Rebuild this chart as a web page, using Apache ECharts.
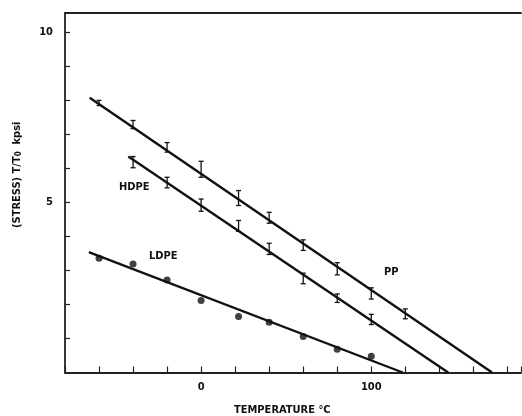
<!DOCTYPE html>
<html>
<head>
<meta charset="utf-8">
<script src="https://cdn.jsdelivr.net/npm/echarts@6/dist/echarts.min.js"></script>
<style>
  html, body { margin: 0; padding: 0; background: #fff; }
  #chart { width: 522px; height: 416px; }
</style>
</head>
<body>
<div id="chart"></div>
<script>
// measured temperatures (°C)
const ppTemps = [-60, -40, -20, 0, 22, 40, 60, 80, 100, 120]
const ppLow = [7.85, 7.17, 6.48, 5.74, 4.91, 4.39, 3.59, 2.87, 2.16, 1.58]
const ppHigh = [8.0, 7.41, 6.76, 6.21, 5.35, 4.71, 3.9, 3.23, 2.49, 1.87]

const hdpeTemps = [-40, -20, 0, 22, 40, 60, 80, 100]
const hdpeLow = [6.02, 5.43, 4.74, 4.15, 3.47, 2.61, 2.06, 1.41]
const hdpeHigh = [6.35, 5.74, 5.1, 4.47, 3.8, 2.92, 2.31, 1.71]

const ldpeTemps = [-60, -40, -20, 0, 22, 40, 60, 80, 100]
const ldpeStress = [3.36, 3.19, 2.72, 2.12, 1.65, 1.48, 1.06, 0.68, 0.48]

// fitted straight lines: [startTemp, endTemp], [startStress, endStress]
const ppFitT = [-65.5, 171]
const ppFitS = [8.08, 0]
const hdpeFitT = [-42.8, 145.2]
const hdpeFitS = [6.35, 0]
const ldpeFitT = [-66, 118.5]
const ldpeFitS = [3.54, 0]

const xLabels = [0, 100]
const yTicks = [1, 2, 3, 4, 5, 6, 7, 8, 9, 10]
const yLabels = [5, 10]

const FONT = '"Liberation Sans Narrow", "DejaVu Sans Condensed", sans-serif'

const zip = (a, b) => a.map((v, i) => [v, b[i]])
const bars = (t, lo, hi) => t.map((v, i) => [v, lo[i], hi[i]])

const renderErrorBar = (params, api) => {
  const x = api.value(0)
  const top = api.coord([x, api.value(2)])
  const bot = api.coord([x, api.value(1)])
  const w = 2.5
  const style = { stroke: '#111', lineWidth: 1.3 }
  return {
    type: 'group',
    children: [
      { type: 'line', shape: { x1: top[0], y1: top[1], x2: bot[0], y2: bot[1] }, style },
      { type: 'line', shape: { x1: top[0] - w, y1: top[1], x2: top[0] + w, y2: top[1] }, style },
      { type: 'line', shape: { x1: bot[0] - w, y1: bot[1], x2: bot[0] + w, y2: bot[1] }, style },
    ],
  }
}

const fitLine = (t, s) => ({
  type: 'line',
  data: zip(t, s),
  symbol: 'none',
  lineStyle: { color: '#111', width: 2.4 },
  silent: true,
  z: 3,
})

const chart = echarts.init(document.getElementById('chart'))

const option = {
  animation: false,
  grid: { left: 65, top: 13, right: 1, bottom: 43.5 },
  xAxis: [
    {
      type: 'value',
      position: 'bottom',
      min: -80,
      max: 188,
      interval: 20,
      splitLine: { show: false },
      axisLine: { show: true, onZero: false, lineStyle: { color: '#222', width: 1.8 } },
      axisTick: { show: true, inside: true, length: 6, lineStyle: { color: '#222', width: 1.2 } },
      axisLabel: {
        customValues: xLabels,
        margin: 9,
        color: '#111',
        fontFamily: FONT,
        fontWeight: 'bold',
        fontSize: 11,
      },
    },
    {
      type: 'value',
      position: 'top',
      min: -80,
      max: 188,
      splitLine: { show: false },
      axisLine: { show: true, onZero: false, lineStyle: { color: '#222', width: 1.8 } },
      axisTick: { show: false },
      axisLabel: { show: false },
    },
  ],
  yAxis: {
    type: 'value',
    position: 'left',
    min: 0,
    max: 10.57,
    interval: 1,
    splitLine: { show: false },
    axisLine: { show: true, onZero: false, lineStyle: { color: '#222', width: 1.8 } },
    axisTick: { show: true, inside: true, length: 5, customValues: yTicks, lineStyle: { color: '#222', width: 1.2 } },
    axisLabel: {
      customValues: yLabels,
      margin: 12,
      color: '#111',
      fontFamily: FONT,
      fontWeight: 'bold',
      fontSize: 11,
    },
  },
  graphic: [
    {
      type: 'text',
      left: 234,
      top: 405,
      style: { text: 'TEMPERATURE °C', fill: '#111', font: 'bold 11px ' + FONT },
    },
    {
      type: 'text',
      x: 11,
      y: 228,
      rotation: Math.PI / 2,
      style: {
        text: '(STRESS) T/T{sub|0}  kpsi',
        fill: '#111',
        font: 'bold 11px ' + FONT,
        rich: { sub: { font: 'bold 8px ' + FONT, verticalAlign: 'bottom', padding: [4, 0, 0, 0] } },
      },
    },
    { type: 'text', left: 119, top: 182, style: { text: 'HDPE', fill: '#111', font: 'bold 11px ' + FONT } },
    { type: 'text', left: 149, top: 251, style: { text: 'LDPE', fill: '#111', font: 'bold 11px ' + FONT } },
    { type: 'text', left: 384, top: 267, style: { text: 'PP', fill: '#111', font: 'bold 11px ' + FONT } },
  ],
  series: [
    fitLine(ppFitT, ppFitS),
    fitLine(hdpeFitT, hdpeFitS),
    fitLine(ldpeFitT, ldpeFitS),
    { type: 'custom', renderItem: renderErrorBar, data: bars(ppTemps, ppLow, ppHigh), z: 4 },
    { type: 'custom', renderItem: renderErrorBar, data: bars(hdpeTemps, hdpeLow, hdpeHigh), z: 4 },
    {
      type: 'scatter',
      data: zip(ldpeTemps, ldpeStress),
      symbol: 'circle',
      symbolSize: 7,
      itemStyle: { color: '#111' },
      z: 4,
    },
  ],
}

chart.setOption(option)
</script>
</body>
</html>
